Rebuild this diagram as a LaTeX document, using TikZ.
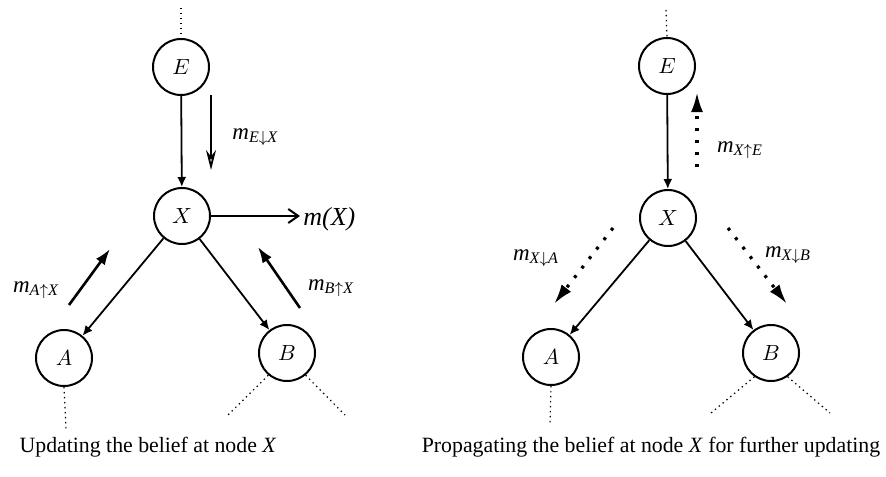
\documentclass[tikz,border=0pt]{standalone}
\usepackage{fontspec}
\setmainfont{Liberation Serif}
\usetikzlibrary{arrows.meta}
\begin{document}
\begin{tikzpicture}[x=0.5pt,y=-0.5pt,
  bnode/.style={draw,circle,line width=1pt,minimum size=28pt,inner sep=0pt,font=\fontsize{10.5}{12}\selectfont},
  conn/.style={line width=0.9pt,-{Latex[length=5pt,width=4.5pt]}},
  msg/.style={line width=1.3pt,-{Latex[length=8pt,width=5.5pt]}},
  dmsg/.style={line width=1.6pt,dash pattern=on 1.5pt off 4.5pt,-{Latex[length=10pt,width=6pt]}},
  cont/.style={line width=0.6pt,dash pattern=on 0.7pt off 1.8pt},
  lab/.style={font=\fontsize{11.5}{13}\selectfont\itshape,inner sep=0pt},
  captext/.style={font=\fontsize{10.9}{13}\selectfont,inner sep=0pt}]
\useasboundingbox (0,0) rectangle (886,476);
% ---------- left diagram ----------
\node[bnode] (E1) at (181,67) {$E$};
\node[bnode] (X1) at (182,216) {$X$};
\node[bnode] (A1) at (64,358) {$A$};
\node[bnode] (B1) at (287,353) {$B$};
\draw[conn] (E1) -- (X1);
\draw[conn] (X1) -- (A1);
\draw[conn] (X1) -- (B1);
\coordinate (tE1) at (181,8);
\coordinate (bA1) at (66,430);
\coordinate (bB1l) at (228,415);
\coordinate (bB1r) at (345,415);
\draw[cont] (tE1) -- (E1.north);
\draw[cont] (A1.south) -- (bA1);
\draw[cont] (B1.230) -- (bB1l);
\draw[cont] (B1.310) -- (bB1r);
\coordinate (m1s) at (211,95); \coordinate (m1e) at (211,170);
\draw[line width=0.9pt,-{Stealth[open,length=10pt,width=5pt]}] (m1s) -- (m1e);
\node[lab,anchor=west] (l1) at (232,137) {m\textsubscript{\textit{E}$\downarrow$\textit{X}}};
\coordinate (mxe) at (300,216);
\draw[line width=1pt,-{Straight Barb[length=5pt,width=7pt]}] (X1.east) -- (mxe);
\node[lab,anchor=west,font=\fontsize{13}{14}\selectfont\itshape] (lmx) at (303,219) {m(X)};
\coordinate (m2s) at (69,305); \coordinate (m2e) at (110,249);
\draw[msg] (m2s) -- (m2e);
\node[lab] (l2) at (36,290) {m\textsubscript{\textit{A}$\uparrow$\textit{X}}};
\coordinate (m3s) at (300,308); \coordinate (m3e) at (258,247);
\draw[msg] (m3s) -- (m3e);
\node[lab] (l3) at (331,288) {m\textsubscript{\textit{B}$\uparrow$\textit{X}}};
\node[captext] (c1) at (148,447) {Updating the belief at node \textit{X}};
% ---------- right diagram ----------
\node[bnode] (E2) at (667,66) {$E$};
\node[bnode] (X2) at (668,218) {$X$};
\node[bnode] (A2) at (551,357) {$A$};
\node[bnode] (B2) at (771,353) {$B$};
\draw[conn] (E2) -- (X2);
\draw[conn] (X2) -- (A2);
\draw[conn] (X2) -- (B2);
\coordinate (tE2) at (666,10);
\coordinate (bA2) at (550,425);
\coordinate (bB2l) at (711,413);
\coordinate (bB2r) at (830,413);
\draw[cont] (tE2) -- (E2.north);
\draw[cont] (A2.south) -- (bA2);
\draw[cont] (B2.235) -- (bB2l);
\draw[cont] (B2.305) -- (bB2r);
\coordinate (n1s) at (697,167); \coordinate (n1e) at (697,92);
\draw[dmsg] (n1s) -- (n1e);
\node[lab] (k1) at (740,150) {m\textsubscript{\textit{X}$\uparrow$\textit{E}}};
\coordinate (n2s) at (613,228); \coordinate (n2e) at (554,304);
\draw[dmsg] (n2s) -- (n2e);
\node[lab] (k2) at (536,258) {m\textsubscript{\textit{X}$\downarrow$\textit{A}}};
\coordinate (n3s) at (728,228); \coordinate (n3e) at (787,304);
\draw[dmsg] (n3s) -- (n3e);
\node[lab] (k3) at (788,255) {m\textsubscript{\textit{X}$\downarrow$\textit{B}}};
\node[captext] (c2) at (651,447) {Propagating the belief at node \textit{X} for further updating};
\end{tikzpicture}
\end{document}
